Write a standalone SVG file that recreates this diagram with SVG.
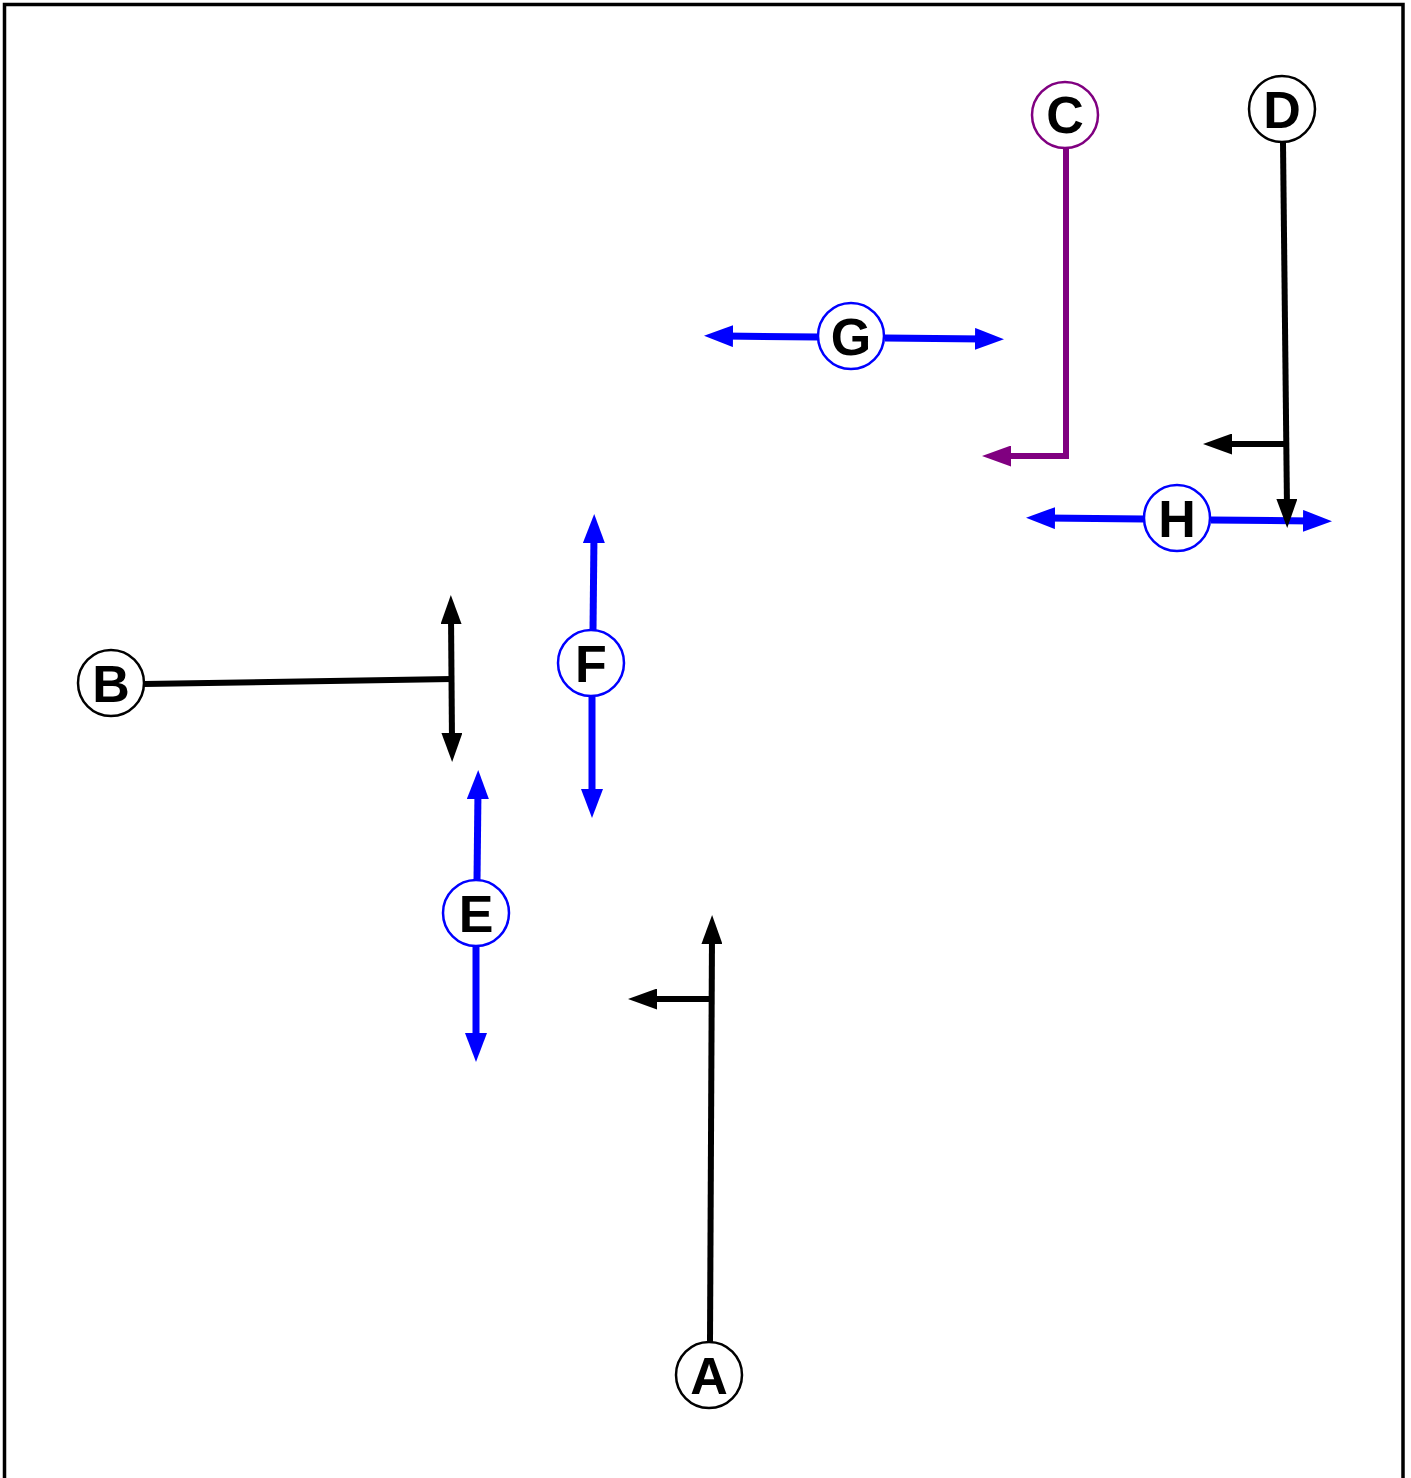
<svg xmlns="http://www.w3.org/2000/svg" width="1411" height="1478" viewBox="0 0 1411 1478">
<style>
.frame{fill:none;stroke:#000;stroke-width:3.5}
.n circle{fill:#fff;stroke-width:2.5}
.n text{font-family:"Liberation Sans",Arial,sans-serif;font-weight:bold;font-size:52px;text-anchor:middle;fill:#000}
.k{fill:none;stroke:#000;stroke-width:6}
.b{fill:none;stroke:#0000ff;stroke-width:7}
.p{fill:none;stroke:#800080;stroke-width:6}
</style>
<defs>
<marker id="ak" markerUnits="userSpaceOnUse" markerWidth="29" markerHeight="21" refX="9" refY="10.5" orient="auto-start-reverse"><path d="M0,0 L29,10.5 L0,21 Z" fill="#000"/></marker>
<marker id="ab" markerUnits="userSpaceOnUse" markerWidth="29" markerHeight="22" refX="9" refY="11" orient="auto-start-reverse"><path d="M0,0 L29,11 L0,22 Z" fill="#0000ff"/></marker>
<marker id="ap" markerUnits="userSpaceOnUse" markerWidth="29" markerHeight="21" refX="9" refY="10.5" orient="auto-start-reverse"><path d="M0,0 L29,10.5 L0,21 Z" fill="#800080"/></marker>
</defs>
<rect class="frame" x="4.5" y="4.5" width="1398.5" height="1490"/>
<g id="connectors">
<path class="b" d="M1144,519 L1046,518" marker-end="url(#ab)"/>
<path class="b" d="M1211,520 L1312,521" marker-end="url(#ab)"/>
<path class="k" d="M710,1342 L712,935" marker-end="url(#ak)"/>
<path class="k" d="M712,999 L648,999" marker-end="url(#ak)"/>
<path class="k" d="M144,684 L452,679"/>
<path class="k" d="M451,615 L452,742" marker-start="url(#ak)" marker-end="url(#ak)"/>
<path class="p" d="M1066,148 L1066,456 L1002,456" marker-end="url(#ap)"/>
<path class="k" d="M1283,143 L1287,508" marker-end="url(#ak)"/>
<path class="k" d="M1287,444 L1223,444" marker-end="url(#ak)"/>
<path class="b" d="M477,880 L478,790" marker-end="url(#ab)"/>
<path class="b" d="M476,947 L476,1042" marker-end="url(#ab)"/>
<path class="b" d="M593,630 L594,534" marker-end="url(#ab)"/>
<path class="b" d="M592,697 L592,798" marker-end="url(#ab)"/>
<path class="b" d="M818,337 L724,336" marker-end="url(#ab)"/>
<path class="b" d="M885,338 L984,339" marker-end="url(#ab)"/>
</g>
<g id="node-A" class="n"><circle cx="709" cy="1375" r="33" stroke="#000"/><text x="709" y="1394">A</text></g>
<g id="node-B" class="n"><circle cx="111" cy="683" r="33" stroke="#000"/><text x="111" y="702">B</text></g>
<g id="node-C" class="n"><circle cx="1065" cy="115" r="33" stroke="#800080"/><text x="1065" y="133">C</text></g>
<g id="node-D" class="n"><circle cx="1282" cy="109" r="33" stroke="#000"/><text x="1282" y="128">D</text></g>
<g id="node-E" class="n"><circle cx="476" cy="913" r="33" stroke="#0000ff"/><text x="476" y="932">E</text></g>
<g id="node-F" class="n"><circle cx="591" cy="663" r="33" stroke="#0000ff"/><text x="591" y="682">F</text></g>
<g id="node-G" class="n"><circle cx="851" cy="336" r="33" stroke="#0000ff"/><text x="851" y="355">G</text></g>
<g id="node-H" class="n"><circle cx="1177" cy="518" r="33" stroke="#0000ff"/><text x="1177" y="537">H</text></g>
</svg>
